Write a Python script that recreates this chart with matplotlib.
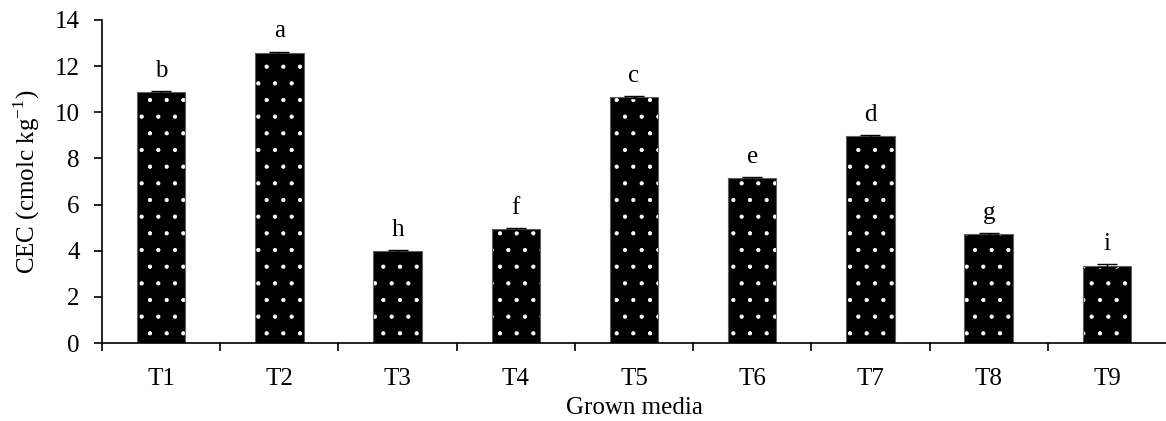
import numpy as np
import matplotlib
matplotlib.use('Agg')
import matplotlib.pyplot as plt

# data
treatments = ['T1', 'T2', 'T3', 'T4', 'T5', 'T6', 'T7', 'T8', 'T9']
cec = [10.87, 12.58, 3.98, 4.95, 10.66, 7.14, 8.97, 4.73, 3.36]
cec_err = [0.05, 0.05, 0.04, 0.04, 0.05, 0.04, 0.05, 0.04, 0.05]
letters = ['b', 'a', 'h', 'f', 'c', 'e', 'd', 'g', 'i']

plt.rcParams['font.family'] = ['Liberation Serif', 'DejaVu Serif']
plt.rcParams['mathtext.fontset'] = 'custom'
plt.rcParams['mathtext.rm'] = 'Liberation Serif'
plt.rcParams['hatch.color'] = 'white'
plt.rcParams['hatch.linewidth'] = 0.6

fs = 18
fig = plt.figure(figsize=(11.66, 4.21), dpi=100)
ax = fig.add_axes([0.0875, 0.185, 0.9125, 0.7675])

x = np.arange(len(treatments))
ax.bar(x, cec, width=0.41, color='black', hatch='.', linewidth=0)
ax.bar(x, cec, width=0.41, fill=False, edgecolor='#606060', linewidth=0.8)
ax.errorbar(x, cec, yerr=cec_err, fmt='none', ecolor='black',
            elinewidth=1, capsize=7, capthick=1)

for xi, v, e, lab in zip(x, cec, cec_err, letters):
    ax.text(xi, v + e + 0.4, lab, ha='center', va='bottom', fontsize=fs)

ax.set_xlim(-0.5, len(treatments) - 0.5)
ax.set_ylim(0, 14)
ax.set_yticks(range(0, 15, 2))
ax.set_xticks(x)
ax.set_xticklabels(treatments)
ax.set_xticks(np.arange(-0.5, len(treatments) - 0.5, 1), minor=True)
ax.tick_params(axis='x', which='major', length=0, pad=18, labelsize=fs)
ax.tick_params(axis='x', which='minor', length=6, width=1.2, direction='out')
ax.tick_params(axis='y', length=6, width=1.2, direction='out', labelsize=fs, pad=10)

ax.spines['top'].set_visible(False)
ax.spines['right'].set_visible(False)
ax.spines['left'].set_linewidth(1.2)
ax.spines['bottom'].set_linewidth(1.2)

ax.set_ylabel('CEC (cmolc kg$^{\\mathrm{-1}}$)', fontsize=fs, labelpad=9)
ax.set_xlabel('Grown media', fontsize=fs, labelpad=5)

fig.savefig('out.png', dpi=100)
